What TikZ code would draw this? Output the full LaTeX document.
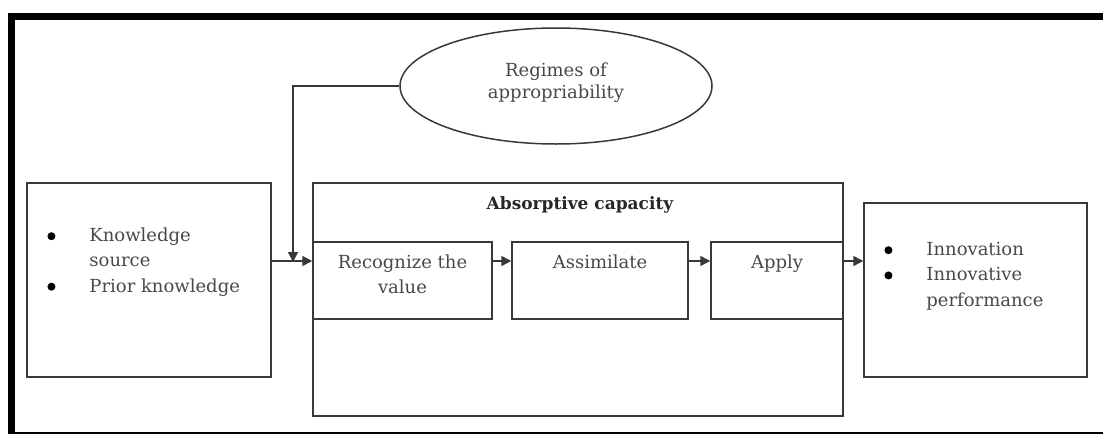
\documentclass[tikz,border=0pt]{standalone}
\usepackage{fontspec}
\setmainfont{DejaVu Serif}
\usetikzlibrary{shapes.geometric,arrows.meta,positioning}
\definecolor{ink}{HTML}{484848}
\definecolor{rule}{HTML}{383838}
\tikzstyle{box} = [draw=rule,line width=1.5pt,rectangle,inner sep=0]
\tikzstyle{oval} = [draw=rule,line width=1.5pt,ellipse,inner sep=0]
\tikzstyle{txt} = [inner sep=0,text=ink,font=\fontsize{18}{24.5}\selectfont]
\tikzstyle{flow} = [-{Triangle[length=10pt,width=10pt]},draw=rule,line width=1.5pt]
\def\blt{\makebox[42pt][l]{\tikz[baseline=-0.3em]\fill[black] (0,0) circle (4pt);}}
\renewcommand{\arraystretch}{1.03}

\begin{document}
\begin{tikzpicture}[x=1pt,y=-1pt]
      \useasboundingbox (0,0) rectangle (1103,434);
      % frame
      \fill[black] (8,13) rectangle (1103,20);
      \fill[black] (8,13) rectangle (15,434);
      \fill[black] (8,431.5) rectangle (1103,434);
      % boxes
      \node[box,minimum width=244pt,minimum height=194pt] (source) at (149,280) {};
      \node[box,minimum width=530pt,minimum height=233pt] (ac) at (578,299.5) {};
      \node[box,minimum width=179pt,minimum height=77pt] (recog) at (402.5,280.5) {};
      \node[box,minimum width=176pt,minimum height=77pt] (assim) at (600,280.5) {};
      \node[box,minimum width=132pt,minimum height=77pt] (apply) at (777,280.5) {};
      \node[box,minimum width=223pt,minimum height=174pt] (outcome) at (975.5,290) {};
      \node[oval,minimum width=312pt,minimum height=116pt] (regime) at (556,86) {};
      % texts
      \node[txt,align=center,font=\fontsize{18}{22}\selectfont] (regimetext) at ([yshift=3.5pt]regime.center) {Regimes of\\appropriability};
      \node[txt,anchor=base,font=\fontsize{17}{24.5}\selectfont\bfseries,text=black!85] (actitle) at ([xshift=2pt,yshift=-27pt]ac.north) {Absorptive capacity};
      \node[txt,anchor=north,align=center] (recogtext) at ([yshift=-13.5pt]recog.north) {Recognize the\\value};
      \node[txt,anchor=north] (assimtext) at ([yshift=-13.5pt]assim.north) {Assimilate};
      \node[txt,anchor=north] (applytext) at ([yshift=-13.5pt]apply.north) {Apply};
      \node[txt,anchor=north west] (sourcetext) at ([xshift=21pt,yshift=-41.5pt]source.north west)
        {\begin{tabular}{@{}l@{}l@{}}\blt & Knowledge\\ & source\\ \blt & Prior knowledge\end{tabular}};
      \node[txt,anchor=north west] (outcometext) at ([xshift=21pt,yshift=-35.5pt]outcome.north west)
        {\begin{tabular}{@{}l@{}l@{}}\blt & Innovation\\ \blt & Innovative\\ & performance\end{tabular}};
      % connectors
      \coordinate (lane) at (0,261);
      \coordinate (join) at (293,262);
      \draw[flow] (source.east |- lane) -- (recog.west |- lane);
      \draw[flow] (recog.east |- lane) -- (assim.west |- lane);
      \draw[flow] (assim.east |- lane) -- (apply.west |- lane);
      \draw[flow] (apply.east |- lane) -- (outcome.west |- lane);
      \draw[flow] (regime.west) -| (join);
\end{tikzpicture}
\end{document}
